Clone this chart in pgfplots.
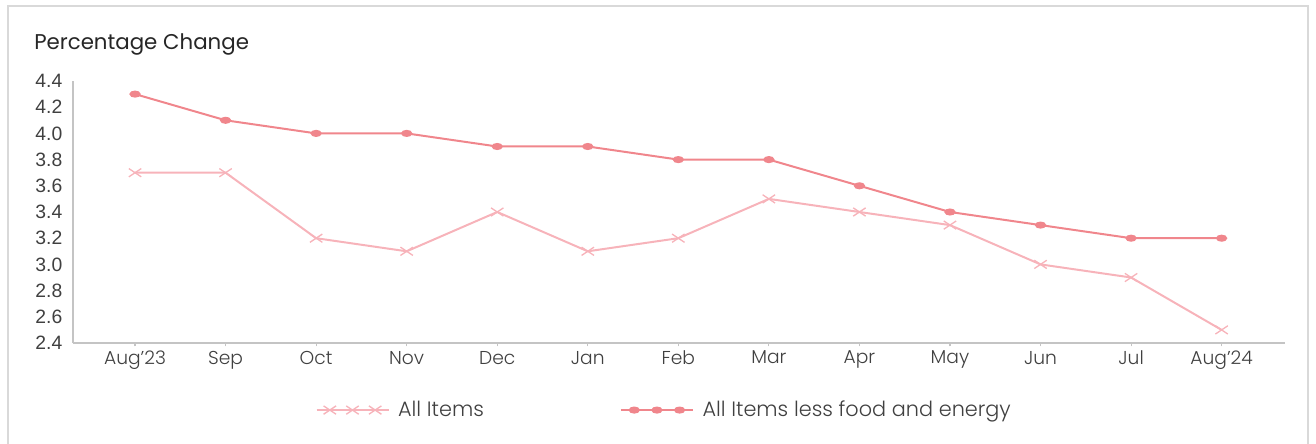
\documentclass[border=0pt]{standalone}
\usepackage{fontspec}
\setmainfont{Poppins}
\newfontfamily\poplight{Poppins Light}
\newfontfamily\arialike{Liberation Sans}
\usepackage{pgfplots}
\pgfplotsset{compat=1.18}

\definecolor{allitems}{HTML}{F7B3BA}
\definecolor{core}{HTML}{F0868C}
\definecolor{axisgrey}{HTML}{C4C4C4}
\definecolor{framegrey}{HTML}{D9D9D9}
\definecolor{txt}{HTML}{404040}

\begin{document}
\begin{tikzpicture}[x=0.75pt,y=0.75pt]
\useasboundingbox (0,0) rectangle (1316,443);
\draw[framegrey, line width=1.2pt] (8,-10) rectangle (1308,437);
\node[anchor=base west, inner sep=0pt, font=\fontsize{16}{18}\selectfont, text=black!85] at (34,393) {Percentage Change};

\begin{axis}[
    at={(54.75pt,75pt)}, anchor=south west,
    scale only axis,
    width=909pt, height=196.5pt,
    xmin=-0.685, xmax=12.7,
    ymin=2.4, ymax=4.4,
    axis x line*=bottom, axis y line*=left,
    axis line style={axisgrey, line width=1pt, -},
    xtick={0,1,...,12},
    xticklabels={Aug’23,Sep,Oct,Nov,Dec,Jan,Feb,Mar,Apr,May,Jun,Jul,Aug’24},
    ytick={2.4,2.6,2.8,3.0,3.2,3.4,3.6,3.8,4.0,4.2,4.4},
    tick align=outside,
    xtick style={axisgrey, line width=0.8pt},
    ytick style={draw=none},
    major tick length=2.5pt,
    xticklabel style={font=\poplight\fontsize{14}{16}\selectfont, text=txt},
    y tick label style={font={\fontsize{14.5}{17}\arialike\selectfont}, text=txt, xshift=-2pt},
    yticklabel style={/pgf/number format/.cd, fixed, fixed zerofill, precision=1, assume math mode=true},
    legend style={at={(0.488,-0.256)}, anchor=center, draw=none,
        font=\poplight\fontsize{15.6}{18}\selectfont, text=txt,
        /tikz/every even column/.append style={column sep=100pt},
        /tikz/every odd column/.append style={column sep=4.5pt}},
    legend columns=2,
    legend cell align=left,
    legend image code/.code={
        \draw[#1, mark indices={2,3,4}] plot coordinates {(0pt,0pt) (10pt,0pt) (27pt,0pt) (44pt,0pt) (54pt,0pt)};
    },
]

\addplot[color=allitems, line width=1.5pt, mark=x, mark size=4.4pt, mark options={xscale=1.5, line width=1pt}]
    coordinates {
    (0,3.7) (1,3.7) (2,3.2) (3,3.1) (4,3.4) (5,3.1) (6,3.2)
    (7,3.5) (8,3.4) (9,3.3) (10,3.0) (11,2.9) (12,2.5)
    };
\addlegendentry{All Items}

\addplot[color=core, line width=1.5pt, mark=*, mark size=1.9pt, mark options={xscale=1.8, fill=core}]
    coordinates {
    (0,4.3) (1,4.1) (2,4.0) (3,4.0) (4,3.9) (5,3.9) (6,3.8)
    (7,3.8) (8,3.6) (9,3.4) (10,3.3) (11,3.2) (12,3.2)
    };
\addlegendentry{All Items less food and energy}

\end{axis}
\end{tikzpicture}
\end{document}
